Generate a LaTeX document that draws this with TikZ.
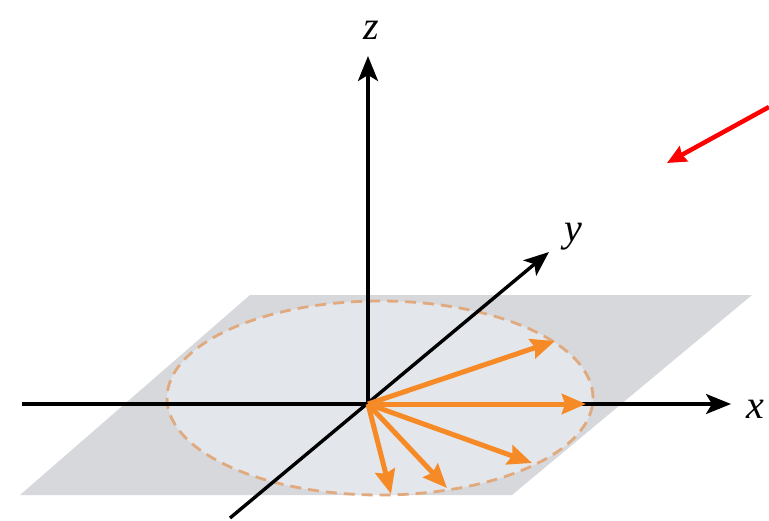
\documentclass[tikz,border=0pt]{standalone}
\usepackage{fontspec}
\setmainfont{Liberation Serif}
\usetikzlibrary{arrows.meta}
\definecolor{planegray}{RGB}{214,216,220}
\definecolor{innergray}{RGB}{227,230,235}
\definecolor{vecorange}{RGB}{246,138,38}
\definecolor{dashorange}{RGB}{224,170,126}
\begin{document}
\begin{tikzpicture}[x=1pt,y=-1pt,
  axis/.style={line width=3.4pt,-{Stealth[length=25pt,width=20pt,inset=6pt]}},
  vec/.style={draw=vecorange,line width=5pt,-{Stealth[length=24pt,width=20pt,inset=3pt]}},
  ring/.style={draw=dashorange,line width=2.8pt,dash pattern=on 11pt off 7pt},
  lab/.style={font=\fontsize{40}{40}\selectfont\itshape,inner sep=0pt},
  pointer/.style={draw=red,line width=4.5pt,-{Stealth[length=19pt,width=17pt,inset=2pt]}}]
\useasboundingbox (0,0) rectangle (769,520);
% plane
\fill[planegray] (250,295) -- (752,295) -- (512,495) -- (20,495) -- cycle;
\fill[innergray] (380,398) ellipse [x radius=213pt, y radius=97pt];
\draw[ring] (380,398) ellipse [x radius=213pt, y radius=97pt];
% coordinates
\coordinate (O) at (368,404);
\coordinate (xL) at (22,404);
\coordinate (xR) at (731,404);
\coordinate (yB) at (230,518);
\coordinate (yT) at (549,252);
\coordinate (zT) at (368,56);
% axes
\draw[axis] (xL) -- (xR);
\draw[axis] (yB) -- (yT);
\draw[axis] (O) -- (zT);
% labels
\node[lab] (zl) at (371,30) {z};
\node[lab] (yl) at (573,237) {y};
\node[lab] (xl) at (755,409) {x};
% vectors
\coordinate (v1) at (555,341);
\coordinate (v2) at (586,404);
\coordinate (v3) at (532,463);
\coordinate (v4) at (447,488);
\coordinate (v5) at (391,494);
\foreach \v in {v1,v2,v3,v4,v5} \draw[vec] (O) -- (\v);
% red pointer
\coordinate (rS) at (769,107);
\coordinate (rE) at (667,163);
\draw[pointer] (rS) -- (rE);
\end{tikzpicture}
\end{document}
